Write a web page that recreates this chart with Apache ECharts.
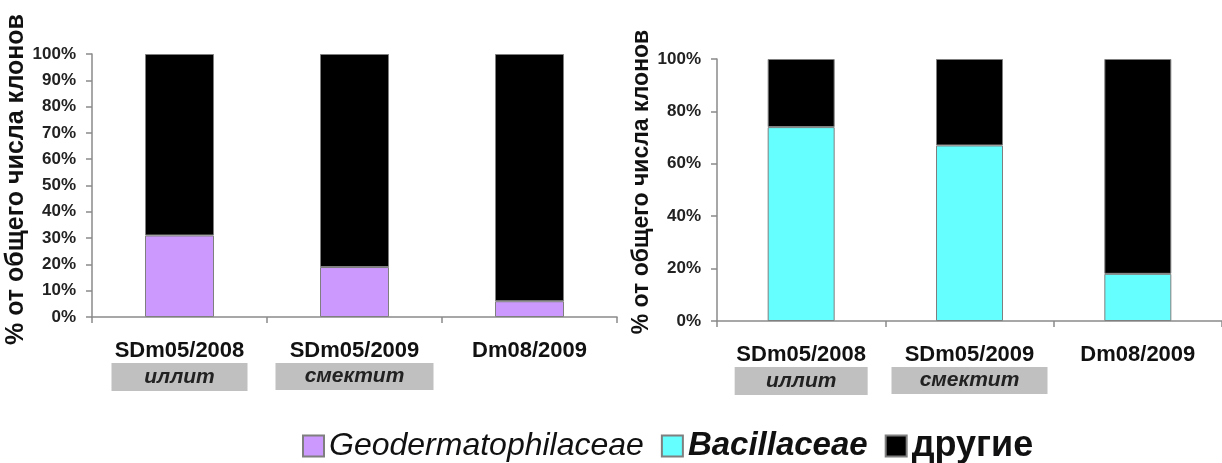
<!DOCTYPE html>
<html>
<head>
<meta charset="utf-8">
<script src="https://cdn.jsdelivr.net/npm/echarts@6/dist/echarts.min.js"></script>
<style>html,body{margin:0;padding:0;background:#fff}#c{width:1222px;height:463px}</style>
</head>
<body>
<div id="c"></div>
<script>
// ---- data ----
var categories = ['SDm05/2008', 'SDm05/2009', 'Dm08/2009'];
var clayLabels = ['иллит', 'смектит', ''];
var geoValues = [31, 19, 6];
var otherLeft = [69, 81, 94];
var bacValues = [74, 67, 18];
var otherRight = [26, 33, 82];
var leftTicks = [0, 10, 20, 30, 40, 50, 60, 70, 80, 90, 100];
var rightTicks = [0, 20, 40, 60, 80, 100];
var yName = '% от общего числа клонов';
var legendNames = ['Geodermatophilaceae', 'Bacillaceae', 'другие'];

var FONT = '"Liberation Sans", Arial, sans-serif';
var PURPLE = '#cc99ff', CYAN = '#66ffff', BLACK = '#000000';
var AXIS = '#8a8a8a';

function catAxis(gridIndex, boxW1, boxW2) {
  return {
    type: 'category', gridIndex: gridIndex, data: categories,
    axisLine: { lineStyle: { color: AXIS, width: 1.5 } },
    axisTick: { show: true, length: 6, lineStyle: { color: AXIS, width: 1.5 } },
    axisLabel: {
      margin: 21, interval: 0,
      formatter: function (v, i) {
        if (clayLabels[i]) return '{c|' + v + '}\n{b' + i + '|' + clayLabels[i] + '}';
        return '{c|' + v + '}';
      },
      rich: {
        c: { fontFamily: FONT, fontSize: 22, fontWeight: 'bold', color: '#111', lineHeight: 25, height: 25 },
        b0: { fontFamily: FONT, fontSize: 21, fontWeight: 'bold', fontStyle: 'italic', color: '#222',
              backgroundColor: '#c0c0c0', width: boxW1, height: 28, lineHeight: 28, align: 'center' },
        b1: { fontFamily: FONT, fontSize: 21, fontWeight: 'bold', fontStyle: 'italic', color: '#222',
              backgroundColor: '#c0c0c0', width: boxW2, height: 27, lineHeight: 27, align: 'center' }
      }
    }
  };
}
function valAxis(gridIndex, interval, gap, shift, fs) {
  return {
    type: 'value', gridIndex: gridIndex, min: 0, max: 100, interval: interval,
    name: yName, nameLocation: 'middle', nameRotate: 90, nameGap: gap,
    nameTextStyle: { fontFamily: FONT, fontSize: fs, fontWeight: 'bold', color: '#111',
                     padding: [0, 0, 0, shift] },
    splitLine: { show: false },
    axisLine: { show: true, lineStyle: { color: AXIS, width: 1.5 } },
    axisTick: { show: true, length: 6, lineStyle: { color: AXIS, width: 1.5 } },
    axisLabel: { margin: 16, fontFamily: FONT, fontSize: 17, fontWeight: 'bold', color: '#222',
                 formatter: function (v) { return v + '%'; } }
  };
}
function bar(name, data, color, xi, w) {
  return {
    type: 'bar', name: name, data: data, stack: 's' + xi, xAxisIndex: xi, yAxisIndex: xi,
    barWidth: w,
    itemStyle: { color: color, borderColor: '#7f7f7f', borderWidth: 1 },
    emphasis: { disabled: true }
  };
}

var chart = echarts.init(document.getElementById('c'), null, { renderer: 'canvas' });
chart.setOption({
  animation: false,
  backgroundColor: '#fff',
  grid: [
    { left: 92, top: 54, width: 525, height: 263 },
    { left: 717, top: 59, width: 516, height: 262 }
  ],
  xAxis: [catAxis(0, 136, 158), catAxis(1, 133, 156)],
  yAxis: [valAxis(0, 10, 58, 12, 25), valAxis(1, 20, 57, 16, 23)],
  legend: {
    top: 423, left: 297, itemWidth: 21, itemHeight: 21, itemGap: 17,
    icon: 'rect',
    selectedMode: false,
    textStyle: { fontFamily: FONT, fontSize: 33, color: '#111' },
    data: [
      { name: legendNames[0], textStyle: { fontStyle: 'italic', fontSize: 32 } },
      { name: legendNames[1], textStyle: { fontStyle: 'italic', fontWeight: 'bold', fontSize: 33 } },
      { name: legendNames[2], textStyle: { fontWeight: 'bold', fontSize: 36 } }
    ]
  },
  series: [
    bar(legendNames[0], geoValues, PURPLE, 0, 69),
    bar(legendNames[2], otherLeft, BLACK, 0, 69),
    bar(legendNames[1], bacValues, CYAN, 1, 67),
    bar(legendNames[2], otherRight, BLACK, 1, 67)
  ]
});
</script>
</body>
</html>
